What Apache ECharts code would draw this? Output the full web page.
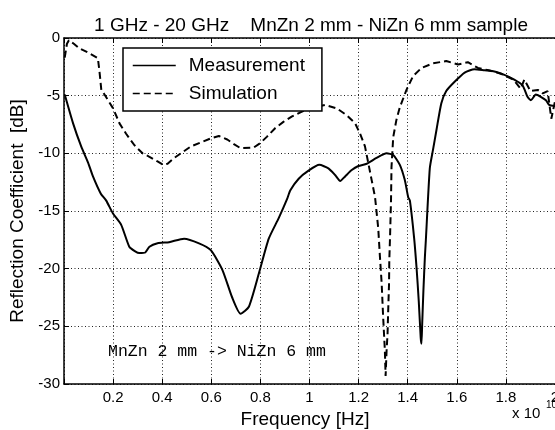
<!DOCTYPE html>
<html>
<head>
<meta charset="utf-8">
<script src="https://cdn.jsdelivr.net/npm/echarts@6/dist/echarts.min.js"></script>
<style>
  html, body { margin: 0; padding: 0; background: #fff; }
  #chart { width: 555px; height: 430px; }
</style>
</head>
<body>
<div id="chart"></div>
<script>
// frequency in units of 1e10 Hz, reflection in dB
const measFreq = [0.003, 0.037, 0.07, 0.098, 0.118, 0.15, 0.172, 0.199, 0.233, 0.266, 0.29, 0.307, 0.331, 0.348, 0.381, 0.428, 0.489, 0.55, 0.598, 0.645, 0.685, 0.719, 0.753, 0.794, 0.834, 0.875, 0.908, 0.922, 0.956, 0.996, 1.04, 1.077, 1.105, 1.125, 1.145, 1.172, 1.199, 1.233, 1.273, 1.314, 1.341, 1.368, 1.388, 1.402, 1.409, 1.426, 1.436, 1.445, 1.453, 1.456, 1.459, 1.464, 1.47, 1.474, 1.49, 1.503, 1.517, 1.537, 1.557, 1.591, 1.632, 1.672, 1.713, 1.753, 1.794, 1.834, 1.868, 1.888, 1.902, 1.922, 1.942, 1.963, 1.976, 2.0];
const measRefl = [-4.9, -7.4, -9.4, -10.8, -12.0, -13.5, -14.1, -15.2, -16.2, -18.1, -18.5, -18.65, -18.6, -18.1, -17.8, -17.7, -17.4, -17.8, -18.4, -20.1, -22.5, -23.9, -23.3, -20.4, -17.4, -15.6, -14.0, -13.2, -12.2, -11.5, -11.0, -11.3, -11.9, -12.4, -12.0, -11.45, -11.1, -10.9, -10.4, -10.0, -10.15, -11.0, -12.3, -13.8, -14.1, -17.3, -19.9, -22.8, -26.0, -26.5, -24.8, -21.9, -19.0, -17.5, -11.3, -9.7, -8.0, -5.65, -4.6, -3.8, -3.0, -2.7, -2.8, -2.9, -3.2, -3.6, -4.1, -5.1, -5.4, -4.9, -5.1, -5.4, -5.8, -5.9];

const simFreq = [0.003, 0.012, 0.02, 0.04, 0.063, 0.097, 0.138, 0.145, 0.152, 0.165, 0.2, 0.226, 0.253, 0.287, 0.32, 0.348, 0.381, 0.405, 0.422, 0.449, 0.483, 0.517, 0.564, 0.598, 0.631, 0.665, 0.692, 0.719, 0.773, 0.8, 0.827, 0.861, 0.895, 0.929, 0.963, 1.0, 1.064, 1.111, 1.152, 1.186, 1.206, 1.226, 1.24, 1.253, 1.267, 1.28, 1.287, 1.294, 1.3, 1.307, 1.31, 1.314, 1.318, 1.321, 1.324, 1.325, 1.328, 1.332, 1.334, 1.341, 1.354, 1.368, 1.395, 1.422, 1.456, 1.503, 1.557, 1.605, 1.645, 1.686, 1.73, 1.78, 1.83, 1.86, 1.875, 1.9, 1.93, 1.95, 1.97, 1.985, 2.0];
const simRefl = [-1.7, -0.5, -0.2, -0.5, -0.9, -1.25, -1.75, -3.0, -4.5, -4.9, -6.1, -7.4, -8.3, -9.3, -10.0, -10.3, -10.7, -11.0, -10.9, -10.4, -9.9, -9.4, -9.0, -8.7, -8.5, -8.8, -9.2, -9.55, -9.5, -9.1, -8.55, -7.8, -7.25, -6.8, -6.45, -6.1, -5.8, -6.1, -6.7, -7.4, -8.3, -9.4, -10.9, -12.3, -13.8, -16.5, -19.0, -21.3, -24.2, -27.1, -29.3, -27.1, -25.6, -23.3, -21.3, -19.3, -17.3, -14.1, -11.2, -8.6, -7.1, -6.0, -4.5, -3.3, -2.6, -2.2, -2.0, -2.3, -2.1, -2.6, -2.8, -3.1, -3.6, -4.4, -3.6, -4.6, -4.5, -4.8, -4.6, -7.0, -5.5];

const seriesNames = ['Measurement', 'Simulation'];
const titleText = '1 GHz - 20 GHz    MnZn 2 mm - NiZn 6 mm sample';
const noteText = 'MnZn 2 mm -> NiZn 6 mm';

const pairs = (xs, ys) => xs.map((x, i) => [x, ys[i]]);

const sans = 'Liberation Sans';
const gridDots = { color: '#222', width: 1, type: [1, 2.5] };
const frame = { show: true, onZero: false, lineStyle: { color: '#000', width: 1.5 } };

const chart = echarts.init(document.getElementById('chart'));

chart.setOption({
  animation: false,
  backgroundColor: '#fff',
  title: {
    text: titleText,
    left: 306,
    top: 11,
    textAlign: 'center',
    textStyle: { fontFamily: sans, fontSize: 19, fontWeight: 'normal', color: '#000' }
  },
  legend: {
    data: seriesNames,
    orient: 'vertical',
    left: 123,
    top: 48,
    backgroundColor: '#fff',
    borderColor: '#000',
    borderWidth: 1.5,
    borderRadius: 0,
    padding: [8, 17, 8, 9],
    itemWidth: 43,
    itemHeight: 14,
    itemGap: 9,
    itemStyle: { opacity: 0, borderWidth: 0 },
    lineStyle: { width: 1.5 },
    textStyle: { fontFamily: sans, fontSize: 19, color: '#000', padding: [0, 0, 0, 8] }
  },
  grid: { left: 64, right: 0, top: 38, bottom: 46, outerBoundsMode: 'none' },
  xAxis: [
    {
      type: 'value',
      min: 0,
      max: 2,
      interval: 0.2,
      name: 'Frequency [Hz]',
      nameLocation: 'middle',
      nameGap: 26,
      nameTextStyle: { fontFamily: sans, fontSize: 19, color: '#000', padding: [0, 9, 0, 0] },
      axisLine: frame,
      axisTick: { show: true, inside: true, length: 5, lineStyle: { color: '#000' } },
      axisLabel: {
        margin: 6,
        fontFamily: sans,
        fontSize: 15,
        color: '#000',
        formatter: v => (v === 0 ? '' : String(+v.toFixed(1)))
      },
      splitLine: { show: true, lineStyle: gridDots }
    },
    {
      type: 'value',
      position: 'top',
      min: 0,
      max: 2,
      interval: 0.2,
      axisLine: frame,
      axisTick: { show: true, inside: true, length: 5, lineStyle: { color: '#000' } },
      axisLabel: { show: false },
      splitLine: { show: false }
    }
  ],
  yAxis: {
    type: 'value',
    min: -30,
    max: 0,
    interval: 5,
    name: 'Reflection Coefficient  [dB]',
    nameLocation: 'middle',
    nameGap: 36,
    nameTextStyle: { fontFamily: sans, fontSize: 19, color: '#000' },
    axisLine: frame,
    axisTick: { show: true, inside: true, length: 5, lineStyle: { color: '#000' } },
    axisLabel: { margin: 4, fontFamily: sans, fontSize: 15, color: '#000' },
    splitLine: { show: true, lineStyle: gridDots }
  },
  series: [
    {
      name: seriesNames[0],
      type: 'line',
      data: pairs(measFreq, measRefl),
      symbol: 'none',
      smooth: 0.2,
      itemStyle: { color: '#000' },
      lineStyle: { color: '#000', width: 2 }
    },
    {
      name: seriesNames[1],
      type: 'line',
      data: pairs(simFreq, simRefl),
      symbol: 'none',
      itemStyle: { color: '#000' },
      lineStyle: { color: '#000', width: 2, type: [7, 4] }
    }
  ],
  graphic: [
    {
      type: 'text',
      left: 108,
      top: 343,
      style: { text: noteText, font: '16.5px "Liberation Mono"', fill: '#000' }
    },
    {
      type: 'text',
      left: 512,
      top: 406,
      style: { text: 'x 10', font: '15px "Liberation Sans"', fill: '#000' }
    },
    {
      type: 'text',
      left: 546,
      top: 400,
      style: { text: '10', font: '10px "Liberation Sans"', fill: '#000' }
    }
  ]
});
</script>
</body>
</html>
